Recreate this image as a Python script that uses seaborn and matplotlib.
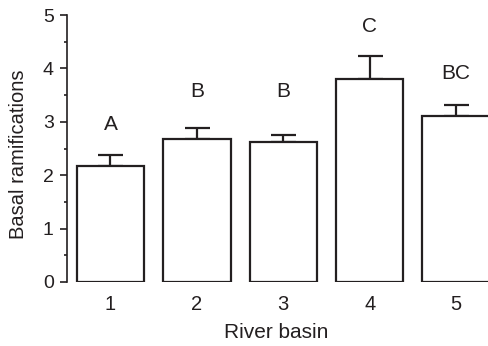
import matplotlib
matplotlib.use("Agg")
import matplotlib.pyplot as plt
from matplotlib.ticker import MultipleLocator
import seaborn as sns
import numpy as np
import pandas as pd

basins = ["1", "2", "3", "4", "5"]
means = [2.17, 2.67, 2.62, 3.81, 3.11]
errors = [0.20, 0.21, 0.14, 0.43, 0.20]
letters = ["A", "B", "B", "C", "BC"]
letter_heights = [2.95, 3.56, 3.56, 4.79, 3.91]

sns.set_style("ticks")
plt.rcParams['font.family'] = ['Liberation Sans', 'DejaVu Sans']

ink = "#231f20"
fig = plt.figure(figsize=(4.88, 3.46), dpi=100)
ax_w = 441 / 488
ax = fig.add_axes([67/488, 64/346, ax_w, 267/346])

df = pd.DataFrame({"basin": basins, "mean": means})
sns.barplot(data=df, x="basin", y="mean", color="white", edgecolor=ink,
            linewidth=1.6, width=0.78, errorbar=None, ax=ax, zorder=3)
for p in ax.patches:
    p.set_facecolor("white")
    p.set_edgecolor(ink)

xpos = np.arange(len(basins))
ax.errorbar(xpos, means, yerr=[np.zeros(len(errors)), errors], fmt="none",
            ecolor=ink, elinewidth=1.6, capsize=9, capthick=1.6, zorder=2)
for x, l, h in zip(xpos, letters, letter_heights):
    ax.text(x, h, l, ha="center", va="center", fontsize=15, color=ink)

ax.set_xlim(-0.503, 4.6)
ax.set_ylim(0, 5)
ax.yaxis.set_major_locator(MultipleLocator(1))
ax.yaxis.set_minor_locator(MultipleLocator(0.5))
ax.tick_params(axis="y", which="major", length=5, width=1.2, color=ink,
               labelsize=14, pad=4.5, labelcolor=ink)
ax.tick_params(axis="y", which="minor", length=2.5, width=1.2, color=ink)
ax.tick_params(axis="x", length=0, labelsize=14.5, pad=9, labelcolor=ink)
ax.set_xlabel("River basin", fontsize=15, color=ink)
ax.set_ylabel("Basal ramifications", fontsize=14.5, color=ink)
ax.xaxis.set_label_coords((276 - 67) / 441, -50 / 267)
ax.xaxis.label.set_va("center")
ax.yaxis.set_label_coords(-48 / 441, 0.48)
ax.yaxis.label.set_va("center")
for s in ["top", "right", "bottom"]:
    ax.spines[s].set_visible(False)
ax.spines["left"].set_color(ink)
ax.spines["left"].set_linewidth(1.2)

fig.savefig("out.png", dpi=100)
